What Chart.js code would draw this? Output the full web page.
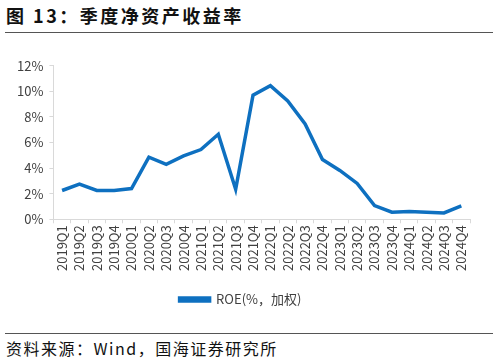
<!DOCTYPE html>
<html>
<head>
<meta charset="utf-8">
<script src="https://cdn.jsdelivr.net/npm/chart.js@4"></script>
<style>
  body { margin: 0; width: 498px; height: 362px; background: #fff; position: relative; font-family: "Noto Sans CJK SC", sans-serif; overflow: hidden; }
  #title { position: absolute; left: 6px; top: 2px; font-size: 18px; font-weight: bold; color: #111; letter-spacing: 2.5px; }
  #rule1 { position: absolute; left: 5px; right: 5px; top: 32px; border-top: 1.5px solid #555; }
  #rule2 { position: absolute; left: 5px; right: 5px; top: 333px; border-top: 1.5px solid #555; }
  #source { position: absolute; left: 6px; top: 336px; font-size: 16px; color: #111; letter-spacing: 1.5px; }
  #wrap { position: absolute; left: 0; top: 52px; width: 498px; height: 264px; }
</style>
</head>
<body>
<div id="title">图 13：季度净资产收益率</div>
<div id="rule1"></div>
<div id="wrap"><canvas id="chart"></canvas></div>
<div id="rule2"></div>
<div id="source">资料来源：Wind，国海证券研究所</div>
<script>
// 季度 ROE（%，加权）
const quarters = [
  '2019Q1', '2019Q2', '2019Q3', '2019Q4',
  '2020Q1', '2020Q2', '2020Q3', '2020Q4',
  '2021Q1', '2021Q2', '2021Q3', '2021Q4',
  '2022Q1', '2022Q2', '2022Q3', '2022Q4',
  '2023Q1', '2023Q2', '2023Q3', '2023Q4',
  '2024Q1', '2024Q2', '2024Q3', '2024Q4'
];
const roe = [
  2.25, 2.75, 2.25, 2.25,
  2.4, 4.85, 4.3, 4.95,
  5.45, 6.65, 2.35, 9.7,
  10.45, 9.25, 7.45, 4.68,
  3.82, 2.8, 1.07, 0.55,
  0.6, 0.55, 0.5, 1.05
];
const yTicks = [0, 2, 4, 6, 8, 10, 12];

const tickFont = { family: '"Noto Sans CJK SC", sans-serif', size: 13 };

new Chart(document.getElementById('chart'), {
  type: 'line',
  data: {
    labels: quarters,
    datasets: [{
      label: 'ROE(%，加权)',
      data: roe,
      borderColor: '#0e70c0',
      backgroundColor: '#0e70c0',
      borderWidth: 3.5,
      pointRadius: 0,
      tension: 0
    }]
  },
  options: {
    responsive: true,
    maintainAspectRatio: false,
    animation: false,
    layout: { padding: { left: 11, right: 28, top: 10, bottom: 0 } },
    scales: {
      x: {
        offset: true,
        grid: { display: true, drawOnChartArea: false, drawTicks: true, tickLength: 4, offset: true, color: '#d9d9d9' },
        border: { color: '#d9d9d9' },
        ticks: { color: '#404040', font: tickFont, minRotation: 90, maxRotation: 90, autoSkip: false, padding: 2 }
      },
      y: {
        min: 0,
        max: 12,
        afterBuildTicks: axis => { axis.ticks = yTicks.map(v => ({ value: v })); },
        grid: { display: true, drawOnChartArea: false, drawTicks: true, tickLength: 4, color: '#d9d9d9' },
        border: { color: '#d9d9d9' },
        ticks: { color: '#404040', font: tickFont, padding: 6, callback: v => v + '%' }
      }
    },
    plugins: {
      legend: {
        position: 'bottom',
        labels: {
          color: '#404040',
          font: tickFont,
          boxWidth: 30,
          boxHeight: 3,
          padding: 20
        }
      },
      tooltip: { enabled: false }
    }
  }
});
</script>
</body>
</html>
